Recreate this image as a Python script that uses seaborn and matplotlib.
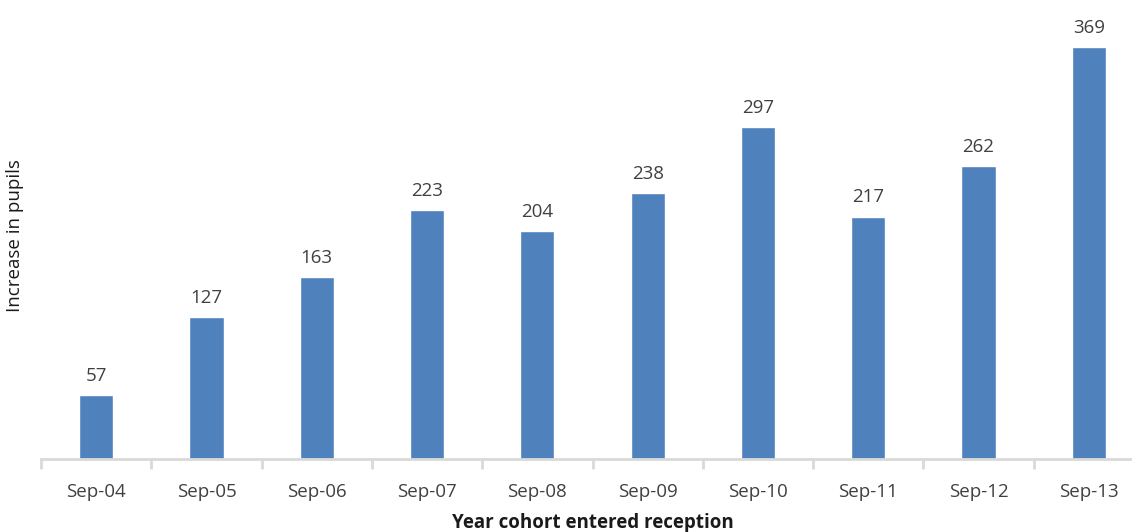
import matplotlib
matplotlib.use("Agg")
import matplotlib.pyplot as plt
import seaborn as sns
import pandas as pd
import numpy as np

cohorts = ['Sep-04', 'Sep-05', 'Sep-06', 'Sep-07', 'Sep-08', 'Sep-09', 'Sep-10', 'Sep-11', 'Sep-12', 'Sep-13']
increase = [57, 127, 163, 223, 204, 238, 297, 217, 262, 369]

bar_color = '#4F81BD'
text_color = '#404040'
axis_color = '#D9D9D9'

sns.set_theme(style="white")
plt.rcParams['font.family'] = ['Open Sans', 'DejaVu Sans']

W, H = 1132, 532
fig = plt.figure(figsize=(W / 100, H / 100), dpi=100)
# axes runs slightly past the right edge, like the original crop
ax = fig.add_axes([41 / W, (H - 459) / H, (1144 - 41) / W, (459 - 12) / H])

df = pd.DataFrame({'cohort': cohorts, 'increase': increase})
sns.barplot(data=df, x='cohort', y='increase', color=bar_color, width=0.31,
            saturation=1, ax=ax)

for i, v in enumerate(increase):
    ax.text(i, v + 9, str(v), ha='center', va='bottom', fontsize=13.5, color=text_color)

ax.set_ylim(0, 400)
ax.set_xlim(-0.5, len(cohorts) - 0.5)
ax.set_yticks([])
for s in ['top', 'right', 'left']:
    ax.spines[s].set_visible(False)
ax.spines['bottom'].set_color(axis_color)
ax.spines['bottom'].set_linewidth(2)

ax.set_xticks(np.arange(-0.5, len(cohorts)), minor=True)
ax.tick_params(axis='x', which='minor', bottom=True, length=7, width=2,
               color=axis_color, direction='out')
ax.tick_params(axis='x', which='major', length=0, pad=17, labelsize=13.5, labelcolor=text_color)

ax.set_xlabel('Year cohort entered reception', fontsize=13.5, fontweight='bold',
              color='#1a1a1a', labelpad=9)
ax.set_ylabel('Increase in pupils', fontsize=13.5, color='#1a1a1a', labelpad=12)

fig.savefig('out.png', dpi=100)
